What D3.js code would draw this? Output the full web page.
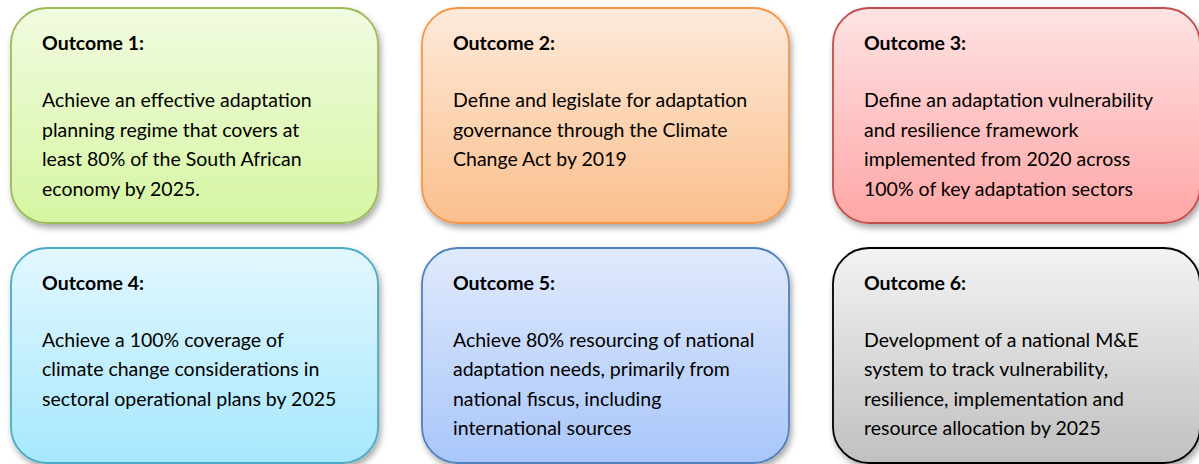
<!DOCTYPE html>
<html>
<head>
<meta charset="utf-8">
<script src="https://cdn.jsdelivr.net/npm/d3@7"></script>
<style>
  html, body { margin: 0; padding: 0; background: #fff; }
  svg { display: block; }
  text { font-family: Lato, "Liberation Sans", sans-serif; fill: #000; }
</style>
</head>
<body>
<div id="chart"></div>
<script>
// outcome boxes, laid out 3 per row
const titles = ["Outcome 1:", "Outcome 2:", "Outcome 3:", "Outcome 4:", "Outcome 5:", "Outcome 6:"];
const bodies = [
    ["Achieve an effective adaptation", "planning regime that covers at", "least 80% of the South African", "economy by 2025."],
    ["Define and legislate for adaptation", "governance through the Climate", "Change Act by 2019"],
    ["Define an adaptation vulnerability", "and resilience framework", "implemented from 2020 across", "100% of key adaptation sectors"],
    ["Achieve a 100% coverage of", "climate change considerations in", "sectoral operational plans by 2025"],
    ["Achieve 80% resourcing of national", "adaptation needs, primarily from", "national fiscus, including", "international sources"],
    ["Development of a national M&E", "system to track vulnerability,", "resilience, implementation and", "resource allocation by 2025"]
];
const topColors = ["#f1fbe0", "#fdeadb", "#fde3e3", "#e3f7fe", "#e0eafc", "#f3f3f3"];
const bottomColors = ["#d5f6a2", "#fbbf8c", "#ffa6a6", "#a6e8fd", "#a9c6fa", "#c0c0c0"];
const strokeColors = ["#9bbb59", "#f79646", "#c0504d", "#4bacc6", "#4f81bd", "#000000"];

const width = 1199, height = 464;
const svg = d3.select("#chart").append("svg").attr("width", width).attr("height", height);

const x = d3.scaleBand().domain([0, 1, 2]).range([11, 1200]).paddingInner(0.107);
const y = d3.scaleBand().domain([0, 1]).range([8, 463]).paddingInner(0.104);

const defs = svg.append("defs");
defs.append("filter").attr("id", "shadow").attr("x", "-10%").attr("y", "-10%").attr("width", "120%").attr("height", "130%")
    .append("feDropShadow").attr("dx", 2).attr("dy", 4).attr("stdDeviation", 3)
    .attr("flood-color", "#000").attr("flood-opacity", 0.35);

titles.forEach((t, i) => {
    const grad = defs.append("linearGradient").attr("id", `grad${i}`)
        .attr("x1", 0).attr("y1", 0).attr("x2", 0).attr("y2", 1);
    grad.append("stop").attr("offset", "0%").attr("stop-color", topColors[i]);
    grad.append("stop").attr("offset", "100%").attr("stop-color", bottomColors[i]);
});

const data = titles.map((t, i) => ({ i, title: t, lines: bodies[i], col: i % 3, row: Math.floor(i / 3) }));

const box = svg.selectAll(".box").data(data).join("g").attr("class", "box")
    .attr("transform", d => `translate(${x(d.col)},${y(d.row)})`);

box.append("rect")
    .attr("width", x.bandwidth()).attr("height", y.bandwidth())
    .attr("rx", 36).attr("ry", 36)
    .style("fill", d => `url(#grad${d.i})`)
    .style("stroke", d => strokeColors[d.i])
    .style("stroke-width", 1.8)
    .attr("filter", "url(#shadow)");

box.append("text")
    .attr("x", 31).attr("y", 42)
    .style("font-size", "19.5px").style("font-weight", "700")
    .text(d => d.title);

box.append("text")
    .attr("x", 31).attr("y", 99)
    .style("font-size", "19.5px")
    .selectAll("tspan").data(d => d.lines).join("tspan")
    .attr("x", 31).attr("dy", (d, j) => j === 0 ? 0 : 29.5)
    .text(d => d);
</script>
</body>
</html>
